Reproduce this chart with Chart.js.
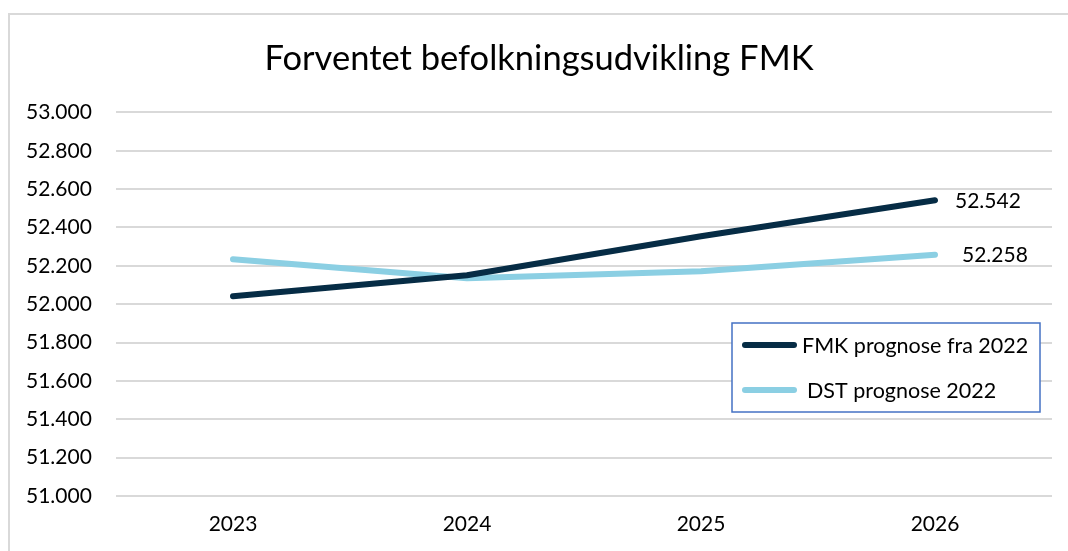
<!DOCTYPE html>
<html><head><meta charset="utf-8">
<script src="https://cdn.jsdelivr.net/npm/chart.js@4"></script>
<style>html,body{margin:0;padding:0;background:#fff;}#wrap{position:relative;width:1068px;height:551px;}</style>
</head><body><div id="wrap"><canvas id="c" width="1068" height="551"></canvas></div>
<script>
const categories = ['2023', '2024', '2025', '2026'];
const fmkValues = [52042, 52151, 52354, 52542];
const dstValues = [52234, 52135, 52172, 52258];
const seriesLabels = ['FMK prognose fra 2022', 'DST prognose 2022'];
const yMin = 51000;
const yMax = 53000;
const yStep = 200;
const titleText = 'Forventet befolkningsudvikling FMK';

const FONT = 'Lato, "Open Sans", sans-serif';
const fmt = n => String(n).replace(/\B(?=(\d{3})+(?!\d))/g, '.');

const framePlugin = {
  id: 'frame',
  beforeDraw(chart) {
    const ctx = chart.ctx;
    ctx.save();
    ctx.strokeStyle = '#d9d9d9';
    ctx.lineWidth = 2;
    ctx.beginPath();
    ctx.moveTo(9, 560);
    ctx.lineTo(9, 14);
    ctx.lineTo(1080, 14);
    ctx.stroke();
    ctx.restore();
  }
};

const labelOffsets = [20, 27];
const valueLabelPlugin = {
  id: 'valueLabels',
  afterDatasetsDraw(chart) {
    const ctx = chart.ctx;
    ctx.save();
    ctx.font = '21px ' + FONT;
    ctx.fillStyle = '#000';
    ctx.textBaseline = 'middle';
    ctx.textAlign = 'left';
    chart.data.datasets.forEach((ds, i) => {
      const meta = chart.getDatasetMeta(i);
      const last = meta.data[meta.data.length - 1];
      ctx.fillText(fmt(ds.data[ds.data.length - 1]), last.x + labelOffsets[i], last.y + 1);
    });
    ctx.restore();
  }
};

const legendBoxPlugin = {
  id: 'legendBox',
  afterDraw(chart) {
    const ctx = chart.ctx;
    const bx = 732, by = 323, bw = 308, bh = 89;
    ctx.save();
    ctx.fillStyle = '#fff';
    ctx.fillRect(bx, by, bw, bh);
    ctx.strokeStyle = '#4472c4';
    ctx.lineWidth = 1.5;
    ctx.strokeRect(bx, by, bw, bh);
    ctx.font = '21.5px ' + FONT;
    ctx.textBaseline = 'middle';
    ctx.textAlign = 'left';
    chart.data.datasets.forEach((ds, i) => {
      const y = by + 22 + i * 45;
      ctx.strokeStyle = ds.borderColor;
      ctx.lineWidth = 6;
      ctx.lineCap = 'round';
      ctx.beginPath();
      ctx.moveTo(745, y);
      ctx.lineTo(794, y);
      ctx.stroke();
      ctx.fillStyle = '#000';
      ctx.fillText(ds.label, 802 + i * 5, y + 1);
    });
    ctx.restore();
  }
};

new Chart(document.getElementById('c'), {
  type: 'line',
  data: {
    labels: categories,
    datasets: [
      { label: seriesLabels[0], data: fmkValues, borderColor: '#062c45', backgroundColor: '#062c45' },
      { label: seriesLabels[1], data: dstValues, borderColor: '#8bcfe3', backgroundColor: '#8bcfe3' }
    ]
  },
  options: {
    responsive: false,
    animation: false,
    devicePixelRatio: 1,
    layout: { padding: { left: 26, right: 16, top: 0, bottom: 0 } },
    elements: {
      line: { borderWidth: 6, tension: 0, borderCapStyle: 'round', borderJoinStyle: 'round' },
      point: { radius: 0, hoverRadius: 0 }
    },
    plugins: {
      legend: { display: false },
      tooltip: { enabled: false },
      title: {
        display: true,
        text: titleText,
        color: '#000',
        font: { family: FONT, size: 34.5, weight: 'normal' },
        padding: { top: 38, bottom: 33 }
      }
    },
    scales: {
      x: {
        offset: true,
        grid: { display: false },
        border: { display: false },
        ticks: { color: '#000', font: { family: FONT, size: 21 }, padding: 8 },
        afterFit(scale) { scale.height = 55; }
      },
      y: {
        min: yMin,
        max: yMax,
        grid: { color: '#d9d9d9', lineWidth: 2, drawTicks: false },
        border: { display: false },
        ticks: {
          stepSize: yStep,
          color: '#000',
          crossAlign: 'far',
          padding: 24,
          font: { family: FONT, size: 21 },
          callback: v => fmt(v)
        },
        afterFit(scale) { scale.width = 90; }
      }
    }
  },
  plugins: [framePlugin, valueLabelPlugin, legendBoxPlugin]
});
</script></body></html>
